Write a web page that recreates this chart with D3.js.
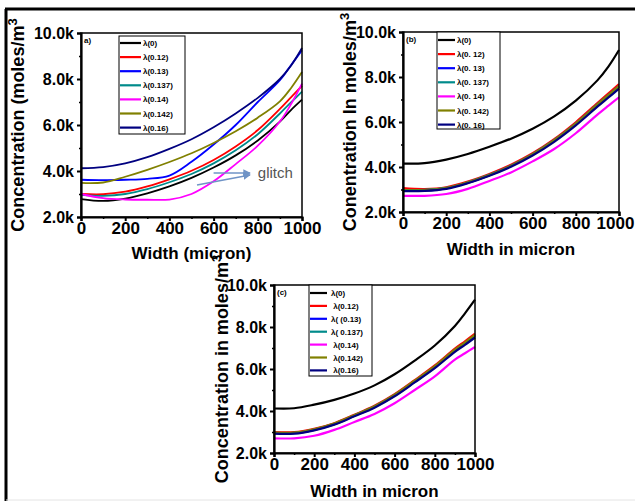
<!DOCTYPE html>
<html>
<head>
<meta charset="utf-8">
<script src="https://cdn.jsdelivr.net/npm/d3@7.9.0/dist/d3.min.js"></script>
<style>
  body { margin: 0; background: #fff; }
  svg { display: block; }
  text { font-family: "Liberation Sans", Arial, sans-serif; }
</style>
</head>
<body>
<svg id="chart" width="635" height="501"></svg>
<script>
// shared x positions (micron)
const widths = [0, 100, 200, 300, 400, 500, 600, 700, 800, 900, 950, 1000];

const yTicks = [2000, 4000, 6000, 8000, 10000];
const yMinor = [3000, 5000, 7000, 9000];
const xTicks = [0, 200, 400, 600, 800, 1000];
const xMinor = [100, 300, 500, 700, 900];

const colors = ['#000000', '#ff0000', '#0000ff', '#008b8b', '#ff00ff', '#808000', '#000080'];

const labelsA = ['λ(0)', 'λ(0.12)', 'λ(0.13)', 'λ(0.137)', 'λ(0.14)', 'λ(0.142)', 'λ(0.16)'];
const labelsB = ['λ(0)', 'λ(0. 12)', 'λ(0. 13)', 'λ(0. 137)', 'λ(0. 14)', 'λ(0. 142)', 'λ(0. 16)'];
const labelsC = ['λ(0)', ' λ(0.12)', 'λ( (0.13)', 'λ( 0.137)', ' λ(0.14)', ' λ(0.142)', ' λ(0.16)'];

// panel (a)
const a0    = [2780, 2700, 2800, 3030, 3330, 3700, 4150, 4680, 5330, 6150, 6650, 7100];
const a012  = [3000, 2990, 3100, 3330, 3640, 4010, 4480, 5070, 5780, 6700, 7200, 7700];
const a013  = [3620, 3600, 3620, 3660, 3800, 4400, 5150, 6000, 7000, 7950, 8600, 9250];
const a0137 = [2960, 2920, 3000, 3210, 3510, 3870, 4330, 4900, 5600, 6500, 6980, 7450];
const a014  = [3000, 2820, 2760, 2750, 2760, 3000, 3550, 4300, 5100, 6150, 6900, 7800];
const a0142 = [3480, 3500, 3750, 4050, 4390, 4770, 5220, 5730, 6320, 7030, 7600, 8300];
const a016  = [4120, 4170, 4330, 4600, 4960, 5380, 5900, 6500, 7180, 8000, 8580, 9350];

// panel (b)
const b0    = [4150, 4170, 4330, 4580, 4900, 5260, 5700, 6250, 6950, 7850, 8450, 9200];
const b012  = [3060, 3020, 3100, 3350, 3690, 4100, 4610, 5240, 5990, 6840, 7260, 7680];
const b013  = [2950, 2960, 3050, 3300, 3640, 4040, 4550, 5170, 5900, 6740, 7150, 7560];
const b0137 = [2970, 2980, 3070, 3320, 3650, 4060, 4570, 5190, 5930, 6780, 7190, 7600];
const b014  = [2720, 2720, 2800, 3030, 3380, 3760, 4250, 4800, 5500, 6330, 6720, 7100];
const b0142 = [2960, 2970, 3060, 3310, 3640, 4050, 4560, 5180, 5920, 6770, 7180, 7580];
const b016  = [2930, 2940, 3030, 3280, 3610, 4010, 4510, 5120, 5850, 6680, 7080, 7480];

// panel (c)
const c0    = [4120, 4130, 4300, 4530, 4830, 5220, 5750, 6400, 7120, 8050, 8650, 9300];
const c012  = [3000, 2990, 3150, 3420, 3820, 4250, 4800, 5470, 6170, 6970, 7320, 7680];
const c013  = [2940, 2940, 3100, 3370, 3770, 4190, 4730, 5390, 6080, 6870, 7200, 7560];
const c0137 = [2960, 2960, 3120, 3390, 3790, 4210, 4760, 5420, 6110, 6900, 7240, 7600];
const c014  = [2700, 2700, 2820, 3100, 3480, 3860, 4370, 5000, 5650, 6450, 6750, 7050];
const c0142 = [2970, 2970, 3130, 3400, 3800, 4220, 4770, 5440, 6130, 6920, 7260, 7620];
const c016  = [2920, 2920, 3080, 3350, 3750, 4160, 4700, 5360, 6040, 6820, 7150, 7500];

const svg = d3.select('#chart');

// outer frame of the figure
svg.append('line').attr('x1', 6).attr('y1', 9).attr('x2', 6).attr('y2', 501)
  .attr('stroke', '#000').attr('stroke-width', 3);
svg.append('line').attr('x1', 5).attr('y1', 9).attr('x2', 635).attr('y2', 9)
  .attr('stroke', '#000').attr('stroke-width', 3);
svg.append('line').attr('x1', 6).attr('y1', 500).attr('x2', 635).attr('y2', 500)
  .attr('stroke', '#e4e4e4').attr('stroke-width', 1);

const panels = [
  {
    box: { left: 81, top: 33, right: 302, bottom: 217 },
    series: [a0, a012, a013, a0137, a014, a0142, a016],
    labels: labelsA, tag: 'a)',
    yTitle: 'Concentration (moles/m', xTitle: 'Width (micron)',
    yTitleX: 24, xTitleY: 259, lw: 1.8,
    legend: { x: 119, y: 36, w: 66, h: 98, first: 43, step: 14.1, lineEnd: 141, textX: 143 }
  },
  {
    box: { left: 403, top: 32, right: 619, bottom: 212 },
    series: [b0, b012, b013, b0137, b014, b0142, b016],
    labels: labelsB, tag: '(b)',
    yTitle: 'Conentration In moles/m', xTitle: 'Width in micron',
    yTitleX: 356, xTitleY: 255, lw: 2.2,
    legend: { x: 437, y: 32, w: 63, h: 97, first: 40, step: 14.1, lineEnd: 455, textX: 457 }
  },
  {
    box: { left: 274, top: 285, right: 475, bottom: 453 },
    series: [c0, c012, c013, c0137, c014, c0142, c016],
    labels: labelsC, tag: '(c)',
    yTitle: 'Concentration in moles/m', xTitle: 'Width in micron',
    yTitleX: 228, xTitleY: 497, lw: 2.2,
    legend: { x: 309, y: 285, w: 63, h: 91, first: 293, step: 12.9, lineEnd: 327, textX: 331 }
  }
];

panels.forEach((p, pi) => {
  const b = p.box;
  const x = d3.scaleLinear().domain([0, 1000]).range([b.left, b.right]);
  const y = d3.scaleLinear().domain([2000, 10000]).range([b.bottom, b.top]);
  const g = svg.append('g');

  // curves
  const line = d3.line()
    .x((d, i) => x(widths[i]))
    .y(d => y(d))
    .curve(d3.curveCatmullRom.alpha(0.5));

  p.series.forEach((s, i) => {
    g.append('path')
      .datum(s)
      .attr('d', line)
      .attr('fill', 'none')
      .attr('stroke', colors[i])
      .attr('stroke-width', p.lw);
  });

  // plot frame
  g.append('rect')
    .attr('x', b.left).attr('y', b.top)
    .attr('width', b.right - b.left).attr('height', b.bottom - b.top)
    .attr('fill', 'none').attr('stroke', '#000').attr('stroke-width', 1.5);

  // y axis
  const yAxis = g.append('g').attr('transform', `translate(${b.left},0)`)
    .call(d3.axisLeft(y).tickValues(yTicks).tickSize(4).tickPadding(3)
      .tickFormat(d => (d / 1000).toFixed(1) + 'k'));
  yAxis.select('.domain').attr('stroke-width', 2.2);
  yAxis.selectAll('.tick line').attr('stroke-width', 2);
  yAxis.selectAll('text').attr('font-size', 16).attr('font-weight', 'bold')
    .attr('fill', '#000').attr('font-family', '"Liberation Sans", Arial, sans-serif');

  const yMin = g.append('g').attr('transform', `translate(${b.left},0)`)
    .call(d3.axisLeft(y).tickValues(yMinor).tickSize(2).tickFormat(''));
  yMin.select('.domain').remove();
  yMin.selectAll('.tick line').attr('stroke-width', 1.5);

  // x axis
  const xAxis = g.append('g').attr('transform', `translate(0,${b.bottom})`)
    .call(d3.axisBottom(x).tickValues(xTicks).tickSize(4).tickPadding(1)
      .tickFormat(d3.format('d')));
  xAxis.select('.domain').attr('stroke-width', 2.2);
  xAxis.selectAll('.tick line').attr('stroke-width', 2);
  xAxis.selectAll('text').attr('font-size', 17).attr('font-weight', 'bold')
    .attr('fill', '#000').attr('font-family', '"Liberation Sans", Arial, sans-serif');
  // keep the last label of the right panel inside the page
  if (pi === 1) xAxis.selectAll('.tick:last-of-type text').attr('dx', -4);

  const xMin = g.append('g').attr('transform', `translate(0,${b.bottom})`)
    .call(d3.axisBottom(x).tickValues(xMinor).tickSize(2).tickFormat(''));
  xMin.select('.domain').remove();
  xMin.selectAll('.tick line').attr('stroke-width', 1.5);

  // axis titles
  const yt = g.append('text')
    .attr('transform', `translate(${p.yTitleX},${(b.top + b.bottom) / 2}) rotate(-90)`)
    .attr('text-anchor', 'middle')
    .attr('font-size', 18).attr('font-weight', 'bold');
  yt.append('tspan').text(p.yTitle);
  yt.append('tspan').attr('dy', -7).attr('font-size', 13).text('3');

  g.append('text')
    .attr('x', (b.left + b.right) / 2).attr('y', p.xTitleY)
    .attr('text-anchor', 'middle')
    .attr('font-size', 17).attr('font-weight', 'bold')
    .text(p.xTitle);

  // panel tag
  g.append('text')
    .attr('x', b.left + 3).attr('y', b.top + 10)
    .attr('font-size', 8).attr('font-weight', 'bold')
    .text(p.tag);

  // legend
  const L = p.legend;
  g.append('rect')
    .attr('x', L.x).attr('y', L.y).attr('width', L.w).attr('height', L.h)
    .attr('fill', '#fff').attr('stroke', '#000').attr('stroke-width', 1);

  p.labels.forEach((lab, i) => {
    const ly = L.first + i * L.step;
    g.append('line')
      .attr('x1', L.x + 1).attr('x2', L.lineEnd)
      .attr('y1', ly).attr('y2', ly)
      .attr('stroke', colors[i]).attr('stroke-width', 2.2);
    g.append('text')
      .attr('x', L.textX).attr('y', ly + 3)
      .attr('font-size', 8).attr('font-weight', 'bold')
      .style('white-space', 'pre')
      .text(lab);
  });

  // glitch note in panel (a)
  if (pi === 0) {
    const defs = svg.append('defs');
    defs.append('marker').attr('id', 'arrow')
      .attr('viewBox', '0 0 10 10').attr('refX', 9).attr('refY', 5)
      .attr('markerWidth', 5).attr('markerHeight', 5).attr('orient', 'auto')
      .append('path').attr('d', 'M0,0 L10,5 L0,10 z').attr('fill', '#6f93c6');

    const arrows = [
      [[600, 3910], [765, 3910]],
      [[525, 3390], [765, 3830]]
    ];
    arrows.forEach(a => {
      g.append('line')
        .attr('x1', x(a[0][0])).attr('y1', y(a[0][1]))
        .attr('x2', x(a[1][0])).attr('y2', y(a[1][1]))
        .attr('stroke', '#6f93c6').attr('stroke-width', 1.5)
        .attr('marker-end', 'url(#arrow)');
    });
    g.append('text')
      .attr('x', x(800)).attr('y', y(3700))
      .attr('font-size', 15).attr('fill', '#555')
      .attr('font-family', '"Open Sans", sans-serif')
      .text('glitch');
  }
});
</script>
</body>
</html>
